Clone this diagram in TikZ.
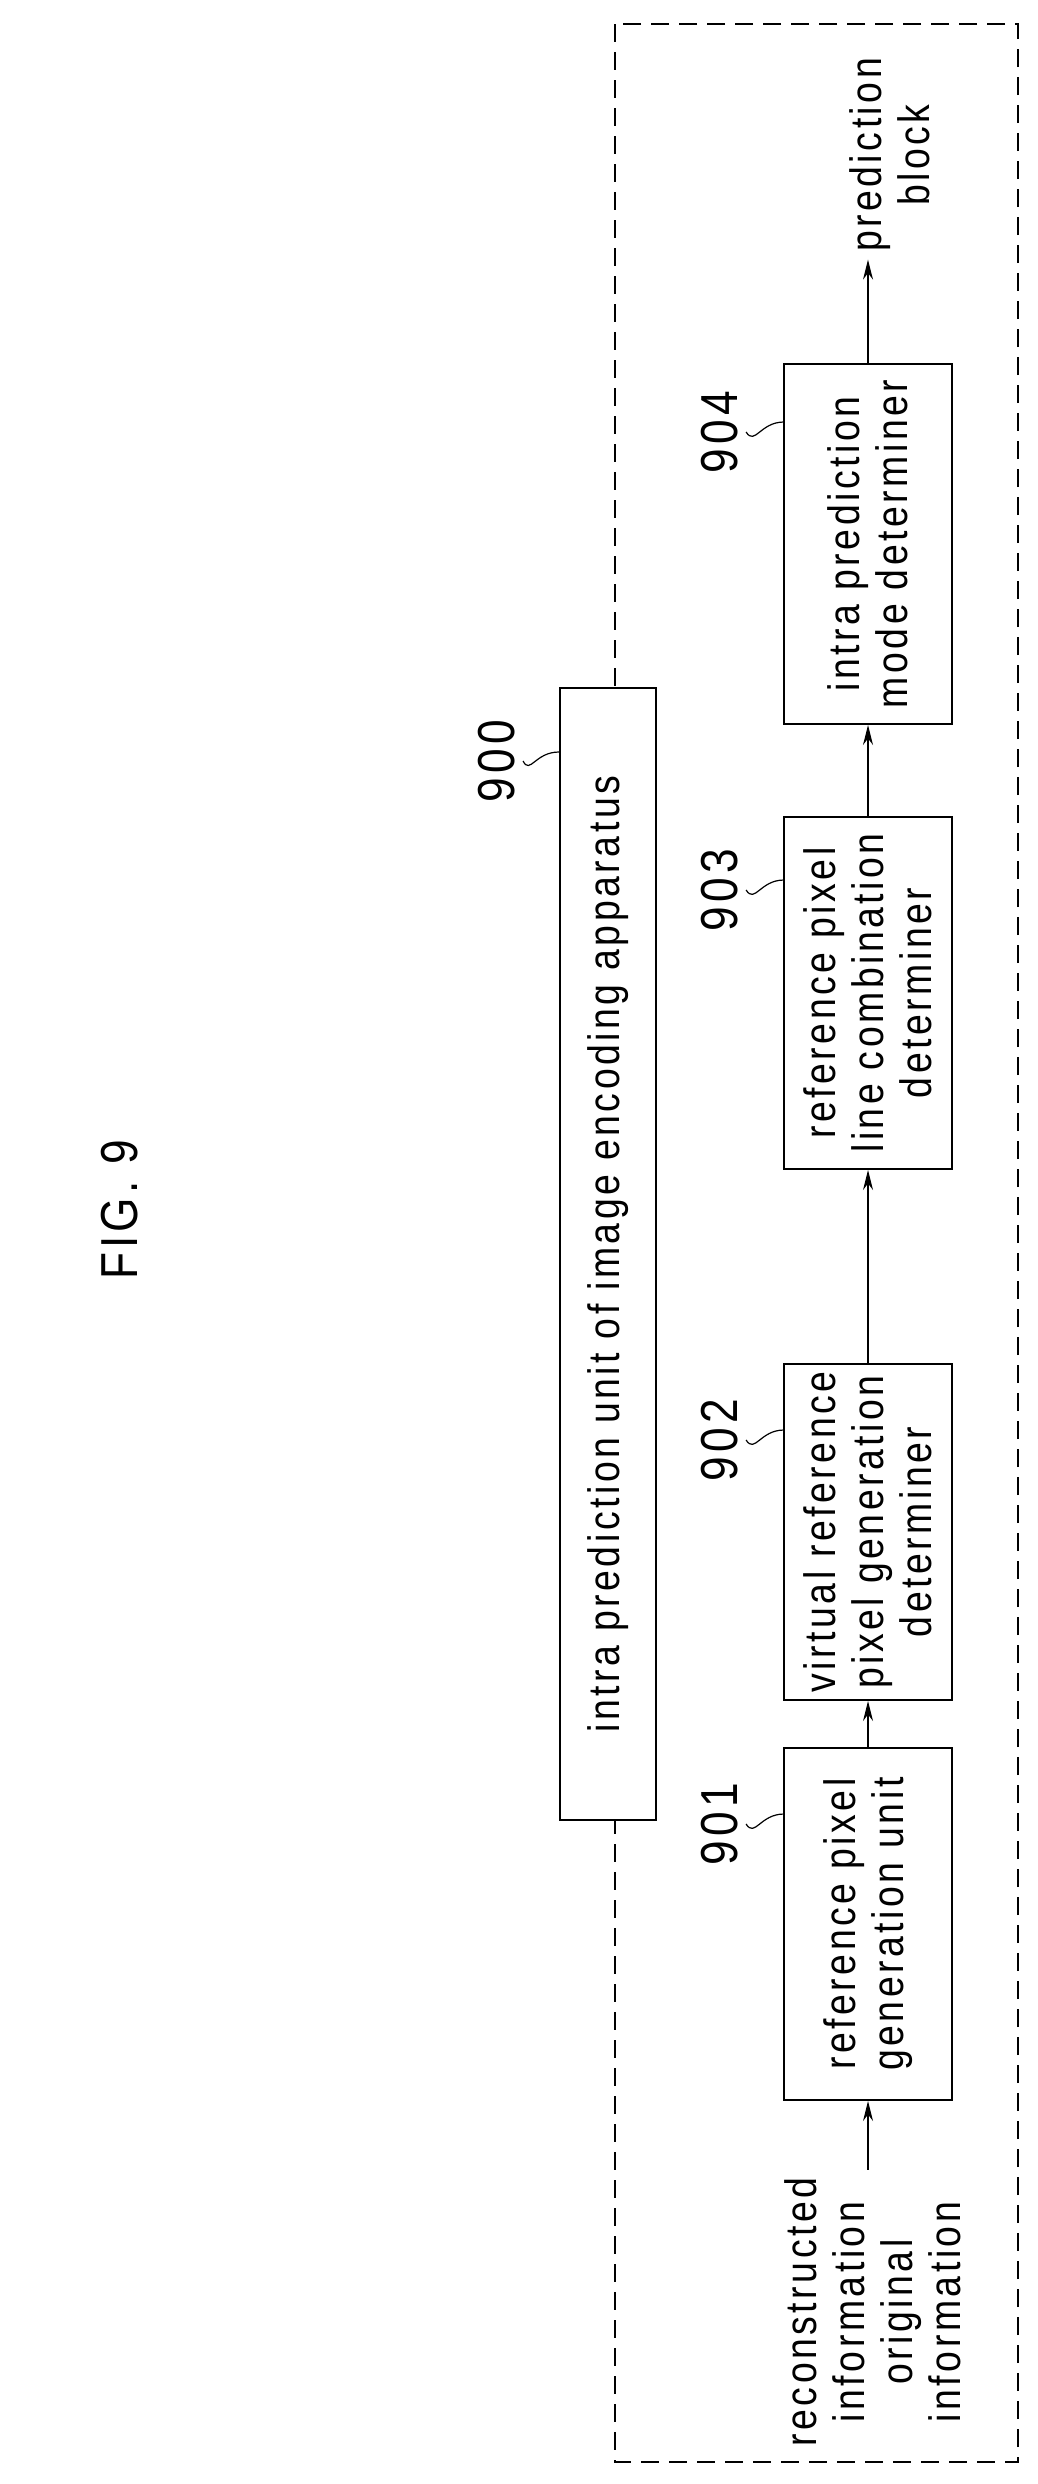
\documentclass[tikz,border=0pt]{standalone}
\usepackage{fontspec}
\setmainfont{Liberation Sans}[FakeStretch=0.85,LetterSpace=8]
\usetikzlibrary{arrows.meta}
\tikzset{every picture/.style={line width=1pt}}
\tikzset{
  blockbox/.style={draw,fill=white,rotate=90,align=center,inner sep=2pt,minimum height=84pt,font=\fontsize{22}{24}\selectfont},
  reftext/.style={rotate=90,font=\fontsize{22}{24}\selectfont},
  flow/.style={-{Stealth[length=10pt,width=5pt]},line width=0.6pt}
}
\begin{document}
\begin{tikzpicture}[x=0.5pt,y=0.5pt,yscale=-1]
	\useasboundingbox (0,0) rectangle (1038,2484);

	%Shape: Rectangle [dashed frame]
	\draw [dashed,dash pattern=on 9pt off 5pt] (615,24) rectangle (1018,2462);

	% Text Node
	\node [rotate=90,font=\fontsize{26}{27}\selectfont] (fig) at (120,1210) {FIG. 9};

	% Blocks
	\node [blockbox,minimum width=566pt,minimum height=48pt] (b900) at (608,1254) {intra prediction unit of image encoding apparatus};
	\node [blockbox,minimum width=176pt] (b901) at (868,1924) {reference pixel\\generation unit};
	\node [blockbox,minimum width=168pt] (b902) at (868,1532) {virtual reference\\pixel generation\\determiner};
	\node [blockbox,minimum width=176pt] (b903) at (868,993) {reference pixel\\line combination\\determiner};
	\node [blockbox,minimum width=180pt] (b904) at (868,544) {intra prediction\\mode determiner};

	% Text Node
	\node [reftext,align=center] (inp) at (873,2312) {reconstructed\\information\\original\\information};
	% Text Node
	\node [reftext,align=center] (out) at (890,155) {prediction\\block};

	% Arrows
	\draw [flow] (b901.center |- inp.east) -- (b901.west);
	\draw [flow] (b901.east) -- (b902.west);
	\draw [flow] (b902.east) -- (b903.west);
	\draw [flow] (b903.east) -- (b904.west);
	\draw [flow] (b904.east) -- (b904.center |- out.west);

	% Reference numbers
	\node [reftext,font=\fontsize{26}{27}\selectfont] (n900) at (497,761) {900};
	\draw [line width=0.6pt] (n900.south) .. controls (530,775) and (535,752) .. (b900.north east |- 0,752) ;
	\foreach \nm/\yy in {901/1824,902/1440,903/890,904/432}{
		\node [reftext,font=\fontsize{26}{27}\selectfont] (n\nm) at (720,\yy) {\nm};
		\draw [line width=0.6pt] (n\nm.south) .. controls (755,\yy+14) and (760,\yy-10) .. (784,\yy-10) ;
	}
\end{tikzpicture}
\end{document}
